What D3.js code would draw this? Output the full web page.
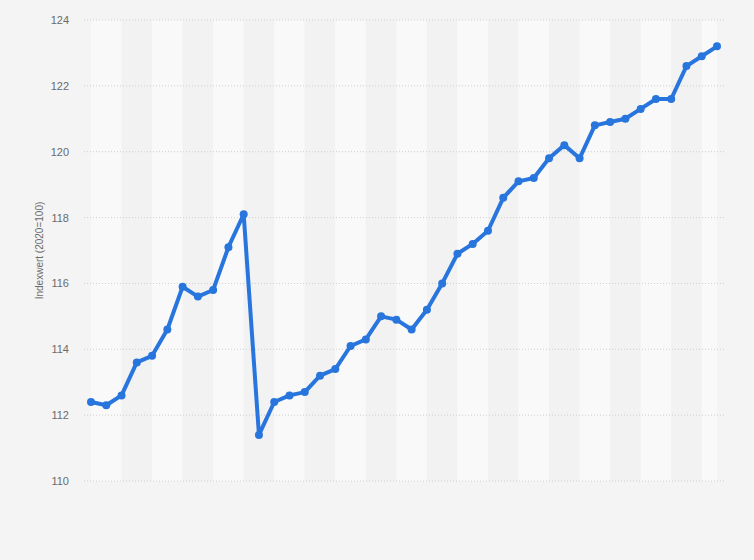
<!DOCTYPE html>
<html>
<head>
<meta charset="utf-8">
<script src="https://cdn.jsdelivr.net/npm/d3@7"></script>
<style>
  body { margin: 0; background: #f4f4f4; }
  svg { display: block; font-family: "Liberation Sans", Arial, sans-serif; }
</style>
</head>
<body>
<div id="chart"></div>
<script>
// index values (2020=100), one per period
var values = [
    112.4, 112.3, 112.6, 113.6, 113.8, 114.6, 115.9, 115.6, 115.8, 117.1,
    118.1, 111.4, 112.4, 112.6, 112.7, 113.2, 113.4, 114.1, 114.3, 115.0,
    114.9, 114.6, 115.2, 116.0, 116.9, 117.2, 117.6, 118.6, 119.1, 119.2,
    119.8, 120.2, 119.8, 120.8, 120.9, 121.0, 121.3, 121.6, 121.6, 122.6,
    122.9, 123.2
];
var yTicks = [110, 112, 114, 116, 118, 120, 122, 124];
var yLabel = "Indexwert (2020=100)";

var width = 754, height = 560;
var gridLeft = 84, gridRight = 724;

var svg = d3.select("#chart").append("svg")
    .attr("width", width)
    .attr("height", height);

svg.append("rect")
    .attr("width", width).attr("height", height)
    .attr("fill", "#f4f4f4");

var xScale = d3.scaleLinear().domain([0, values.length - 1]).range([91, 717]);
var yScale = d3.scaleLinear().domain([110, 124]).range([481, 20]);

// alternating column bands, two periods each
for (var i = 0; i < values.length - 1; i += 2) {
    var j = Math.min(i + 2, values.length - 1);
    svg.append("rect")
        .attr("x", xScale(i))
        .attr("y", yScale(124))
        .attr("width", xScale(j) - xScale(i))
        .attr("height", yScale(110) - yScale(124))
        .attr("fill", (i / 2) % 2 == 0 ? "#f9f9f9" : "#f2f2f2");
}

// grid lines
svg.selectAll(".grid").data(yTicks)
    .enter().append("line")
    .attr("x1", gridLeft).attr("x2", gridRight)
    .attr("y1", d => yScale(d)).attr("y2", d => yScale(d))
    .attr("stroke", "#cfcfcf")
    .attr("stroke-width", 1)
    .attr("stroke-dasharray", "1,2");

// y axis tick labels
var yAxis = d3.axisLeft(yScale).tickValues(yTicks).tickSize(0).tickPadding(0);
var axisG = svg.append("g")
    .attr("transform", "translate(69,0)")
    .call(yAxis);
axisG.select(".domain").remove();
axisG.selectAll("text")
    .attr("fill", "#6b6b6b")
    .style("font-size", "11px")
    .style("font-family", "'Liberation Sans', Arial, sans-serif");

svg.append("text")
    .attr("transform", "translate(43," + ((yScale(110) + yScale(124)) / 2) + ") rotate(-90)")
    .attr("text-anchor", "middle")
    .attr("fill", "#6b6b6b")
    .style("font-size", "10px")
    .text(yLabel);

// line + markers
var line = d3.line()
    .x((d, i) => xScale(i))
    .y(d => yScale(d));

svg.append("path")
    .attr("d", line(values))
    .attr("fill", "none")
    .attr("stroke", "#2876dd")
    .attr("stroke-width", 4)
    .attr("stroke-linejoin", "round");

svg.selectAll(".dot").data(values)
    .enter().append("circle")
    .attr("cx", (d, i) => xScale(i))
    .attr("cy", d => yScale(d))
    .attr("r", 4)
    .attr("fill", "#2876dd");
</script>
</body>
</html>
